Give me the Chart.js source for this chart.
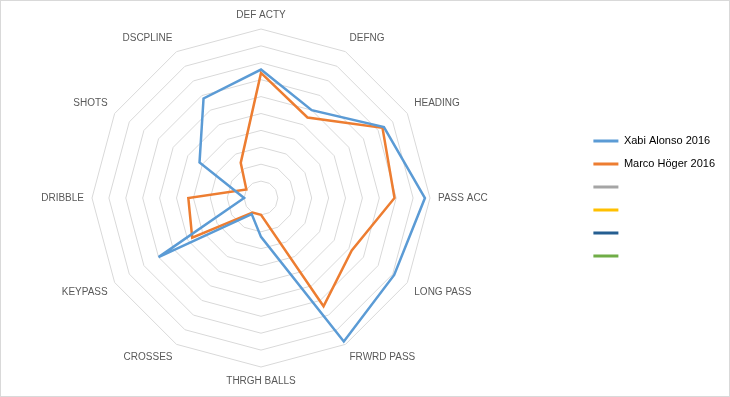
<!DOCTYPE html>
<html>
<head>
<meta charset="utf-8">
<script src="https://cdn.jsdelivr.net/npm/chart.js@4"></script>
<style>
  body { margin: 0; background: #fff; }
  #wrap { width: 730px; height: 397px; box-sizing: border-box; border: 1px solid #d9d9d9; }
</style>
</head>
<body>
<div id="wrap"><canvas id="radarChart" width="728" height="395"></canvas></div>
<script>
const categories = ["DEF ACTY", "DEFNG", "HEADING", "PASS ACC", "LONG PASS", "FRWRD PASS",
  "THRGH BALLS", "CROSSES", "KEYPASS", "DRIBBLE", "SHOTS", "DSCPLINE"];
const alonso = [7.6, 6.0, 8.4, 9.7, 9.1, 9.8, 2.3, 1.1, 7.0, 1.0, 4.2, 6.8];
const hoeger = [7.4, 5.5, 8.3, 7.9, 6.2, 7.4, 1.0, 1.0, 4.7, 4.3, 1.0, 2.4];
const seriesNames = ["Xabi Alonso 2016", "Marco Höger 2016", "", "", "", ""];
const seriesColors = ["#5b9bd5", "#ed7d31", "#a5a5a5", "#ffc000", "#255e91", "#70ad47"];
const seriesValues = [alonso, hoeger, [], [], [], []];

// empty gap between the radar and the legend
const spacer = {
  id: "spacer",
  beforeInit(chart) {
    Chart.layouts.addBox(chart, {
      position: "right",
      weight: 0,
      options: {},
      fullSize: false,
      isHorizontal() { return false; },
      update() { this.width = 69; this.height = 0; },
      draw() {}
    });
  }
};

const ctx = document.getElementById("radarChart").getContext("2d");
new Chart(ctx, {
  type: "radar",
  data: {
    labels: categories,
    datasets: seriesValues.map((vals, i) => ({
      label: seriesNames[i],
      data: vals,
      borderColor: seriesColors[i],
      backgroundColor: "transparent",
      borderWidth: 2.5,
      pointRadius: 0,
      fill: false,
      tension: 0
    }))
  },
  options: {
    responsive: false,
    animation: false,
    layout: { padding: { left: 9, right: 4, top: 8, bottom: 8 } },
    scales: {
      r: {
        min: 0,
        max: 10,
        ticks: { display: false, stepSize: 1 },
        grid: { color: "#d9d9d9", lineWidth: 1 },
        angleLines: { display: false },
        pointLabels: {
          padding: 8,
          color: "#595959",
          font: { family: "Liberation Sans", size: 10 }
        }
      }
    },
    plugins: {
      tooltip: { enabled: false },
      legend: {
        position: "right",
        labels: {
          boxWidth: 25,
          boxHeight: 3,
          padding: 12,
          color: "#595959",
          font: { family: "Liberation Sans", size: 11 },
          generateLabels(chart) {
            return chart.data.datasets.map((ds, i) => ({
              text: ds.label,
              fillStyle: ds.borderColor,
              strokeStyle: ds.borderColor,
              lineWidth: 0,
              hidden: false,
              datasetIndex: i
            }));
          }
        }
      }
    }
  },
  plugins: [spacer]
});
</script>
</body>
</html>
